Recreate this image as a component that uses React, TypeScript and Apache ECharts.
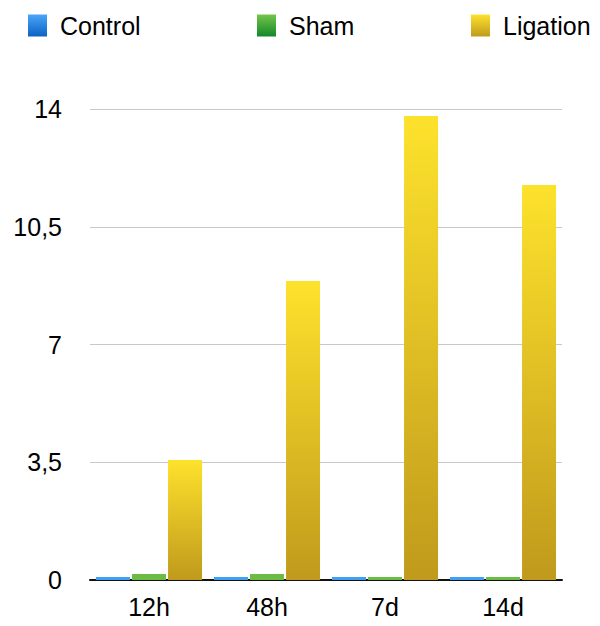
import React, { useEffect, useRef } from "react";
import * as echarts from "echarts";

const categories = ["12h", "48h", "7d", "14d"];
const controlValues = [0.09, 0.09, 0.09, 0.09];
const shamValues = [0.18, 0.18, 0.09, 0.09];
const ligationValues = [3.57, 8.89, 13.79, 11.74];
const yTicks = [0, 3.5, 7, 10.5, 14];

const grad = (top: string, bottom: string) =>
  new echarts.graphic.LinearGradient(0, 0, 0, 1, [
    { offset: 0, color: top },
    { offset: 1, color: bottom },
  ]);

const FONT = "'Liberation Sans', Arial, Helvetica, sans-serif";

export default function App() {
  const ref = useRef<HTMLDivElement>(null);
  useEffect(() => {
    document.body.style.margin = "0";
    if (!ref.current) return;
    const chart = echarts.init(ref.current, null, { renderer: "svg" });
    const legendBase = {
      top: 8,
      itemWidth: 19,
      itemHeight: 22,
      icon: "rect",
      orient: "horizontal" as const,
      textStyle: {
        fontFamily: FONT,
        fontSize: 25,
        color: "#000",
        padding: [0, 0, 0, 8],
      },
    };
    chart.setOption({
      animation: false,
      backgroundColor: "#fff",
      legend: [
        {
          ...legendBase,
          left: 23,
          data: [{ name: "Control", itemStyle: { color: grad("#4aa6f8", "#0a62c4") } }],
        },
        {
          ...legendBase,
          left: 252,
          data: [{ name: "Sham", itemStyle: { color: grad("#74c54a", "#12882a") } }],
        },
        {
          ...legendBase,
          left: 466,
          data: [{ name: "Ligation", itemStyle: { color: grad("#fde22c", "#c09a1c") } }],
        },
      ],
      grid: { left: 90, right: 38, top: 109, bottom: 46, containLabel: false },
      xAxis: {
        type: "category",
        data: categories,
        axisLine: { show: true, lineStyle: { color: "#111", width: 2 } },
        axisTick: { show: false },
        axisLabel: {
          fontFamily: FONT,
          fontSize: 25,
          color: "#000",
          margin: 14,
        },
      },
      yAxis: {
        type: "value",
        min: 0,
        max: 14,
        interval: 3.5,
        axisLine: { show: false },
        axisTick: { show: false },
        splitLine: { lineStyle: { color: "#c8c8c8", width: 1 } },
        axisLabel: {
          fontFamily: FONT,
          fontSize: 25,
          color: "#000",
          margin: 28,
          formatter: (v: number) =>
            yTicks.includes(v) ? String(v).replace(".", ",") : "",
        },
      },
      series: [
        {
          name: "Control",
          type: "bar",
          data: controlValues,
          barWidth: 34,
          barGap: "6%",
          itemStyle: { color: "#3f9ff2" },
        },
        {
          name: "Sham",
          type: "bar",
          data: shamValues,
          barWidth: 34,
          barGap: "6%",
          itemStyle: { color: "#6cbb45" },
        },
        {
          name: "Ligation",
          type: "bar",
          data: ligationValues,
          barWidth: 34,
          barGap: "6%",
          itemStyle: { color: grad("#fde22c", "#c09a1c") },
        },
      ],
    });
    return () => chart.dispose();
  }, []);
  return <div ref={ref} style={{ width: 600, height: 626 }} />;
}
